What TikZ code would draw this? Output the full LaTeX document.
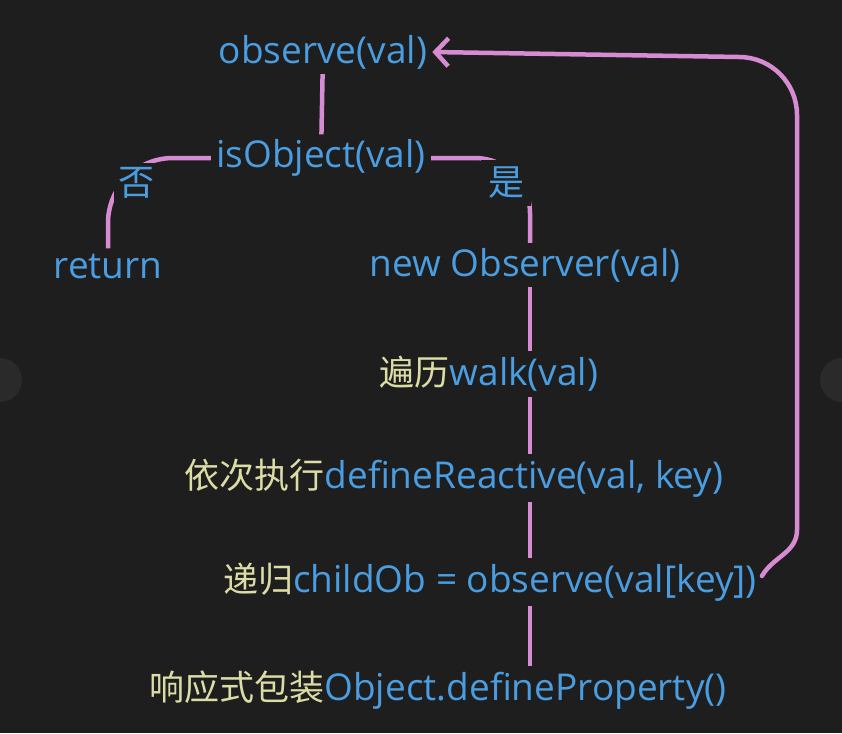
\documentclass[tikz,border=0pt]{standalone}
\usepackage{fontspec}
\setmainfont{Open Sans}
\newfontfamily\cjk{Noto Sans CJK SC}
\usetikzlibrary{arrows.meta}
\definecolor{bg}{HTML}{1E1E1E}
\definecolor{lnk}{HTML}{D68BD2}
\definecolor{txtblue}{HTML}{4A9DE0}
\definecolor{txtyel}{HTML}{DCDCA6}
\definecolor{knob}{HTML}{2A2A2A}
\tikzset{
  lbl/.style={text=txtblue, font=\fontsize{37}{42}\selectfont, inner sep=5pt, anchor=center},
  yn/.style={text=txtblue, font=\fontsize{36}{40}\selectfont\cjk, inner sep=4pt, fill=bg},
  conn/.style={draw=lnk, line width=4.5pt},
}
\newcommand{\zh}[1]{{\cjk\fontsize{35}{42}\selectfont\color{txtyel}#1}}
\begin{document}
\begin{tikzpicture}[x=1pt,y=-1pt]
\fill[bg] (0,0) rectangle (842,733);
\useasboundingbox (0,0) rectangle (842,733);
\fill[knob] (0,380) circle (22);
\fill[knob] (842,380) circle (22);
\coordinate (spine) at (530,0);
\node[lbl] (obs) at (323,52) {observe(val)};
\node[lbl] (iso) at (321,158) {isObject(val)};
\node[lbl] (ret) at (108,266) {return};
\node[lbl] (newobs) at (525,265) {new Observer(val)};
\node[lbl] (walk) at (489,374) {\zh{遍历}walk(val)};
\node[lbl] (dr) at (454,478) {\zh{依次执行}defineReactive(val, key)};
\node[lbl] (child) at (490,582) {\zh{递归}childOb = observe(val[key])};
\node[lbl] (odp) at (438,690) {\zh{响应式包装}Object.defineProperty()};
% connectors
\draw[conn] (obs) -- (iso);
\draw[conn, rounded corners=65] (iso.west) -| (ret.north);
\draw[conn, rounded corners=55] (iso.east) -| (spine |- newobs.north);
\node[yn] (no) at (136,183) {否};
\node[yn, inner sep=7pt] (yes) at (506,183) {是};
\draw[conn] (spine |- newobs.south) -- (spine |- walk.north);
\draw[conn] (spine |- walk.south) -- (spine |- dr.north);
\draw[conn] (spine |- dr.south) -- (spine |- child.north);
\draw[conn] (spine |- child.south) -- (spine |- odp.north);
\draw[conn, line cap=round, -{Straight Barb[length=13pt,width=28pt]}]
  ([yshift=6pt]child.east) to[out=60,in=-90] (797,530)
  -- (797,115) arc[start angle=0, end angle=-90, radius=58] -- (obs.east);
\end{tikzpicture}
\end{document}
